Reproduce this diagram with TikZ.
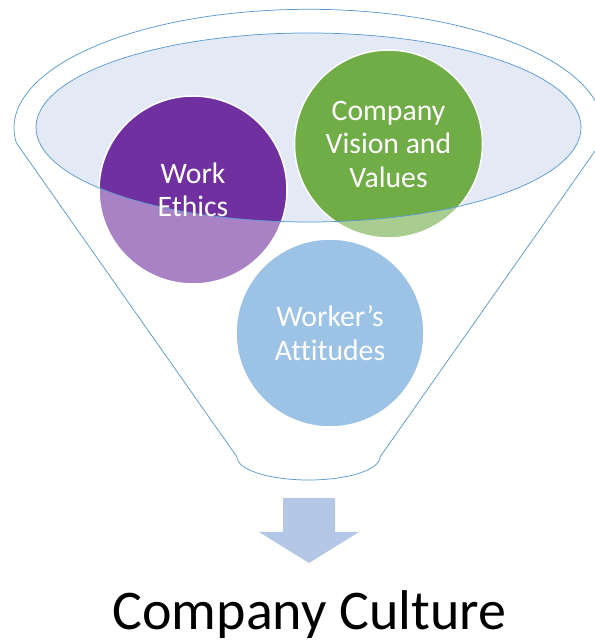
\documentclass[tikz,border=0pt]{standalone}
\usepackage{fontspec}
\setmainfont{Carlito}[Ligatures={NoCommon}]
\definecolor{funnelline}{HTML}{5B9BD5}
\definecolor{mouthfill}{HTML}{E3EAF6}
\definecolor{purpleball}{HTML}{7030A0}
\definecolor{greenball}{HTML}{70AD47}
\definecolor{blueball}{HTML}{5B9BD5}
\definecolor{arrowfill}{HTML}{B4C7E7}
\tikzset{
  ball/.style={circle, minimum size=188bp, inner sep=0pt, draw=white, line width=1.5bp},
  balltext/.style={text=white, align=center, font=\fontsize{29.7bp}{33.5bp}\selectfont},
  outline/.style={draw=funnelline, line width=0.75bp},
}
\begin{document}
\begin{tikzpicture}[x=1bp,y=1bp]
\useasboundingbox (0,0) rectangle (595,641);
% key points
\coordinate (ltop) at (16.4,498);
\coordinate (rbot) at (380,184);
\coordinate (mouthc) at (308.5,513.5);
% mouth fill
\fill[mouthfill] (mouthc) ellipse [x radius=272.5bp, y radius=94.5bp];
% balls
\node[ball, fill=purpleball] (work) at (193,451) {};
\node[ball, fill=greenball] (vision) at (388.5,497) {};
\node[ball, fill=blueball] (attitude) at (330,308) {};
% translucent funnel body
\fill[white, opacity=0.4, even odd rule]
  (ltop) arc[start angle=187.26, end angle=-7.26, x radius=294.5bp, y radius=118.7bp]
  -- (rbot) arc[start angle=0, end angle=-180, x radius=71.5bp, y radius=23bp] -- cycle
  (mouthc) ellipse [x radius=272.5bp, y radius=94.5bp];
% outlines
\path[outline]
  (ltop) arc[start angle=187.26, end angle=-7.26, x radius=294.5bp, y radius=118.7bp]
  -- (rbot) arc[start angle=0, end angle=-180, x radius=71.5bp, y radius=23bp] -- cycle;
\path[outline] (mouthc) ellipse [x radius=272.5bp, y radius=94.5bp];
% texts
\node[balltext] at (work) {Work\\Ethics};
\node[balltext] at (vision) {Company\\Vision and\\Values};
\node[balltext] at (attitude) {Worker’s\\Attitudes};
% arrow
\fill[arrowfill] (283,143) -- (335,143) -- (335,109) -- (359,109) -- (309,78) -- (259,109) -- (283,109) -- cycle;
% result
\node[anchor=base, inner sep=0pt, font=\fontsize{56bp}{60bp}\selectfont] (culture) at (309.5,11) {Company Culture};
\end{tikzpicture}
\end{document}
